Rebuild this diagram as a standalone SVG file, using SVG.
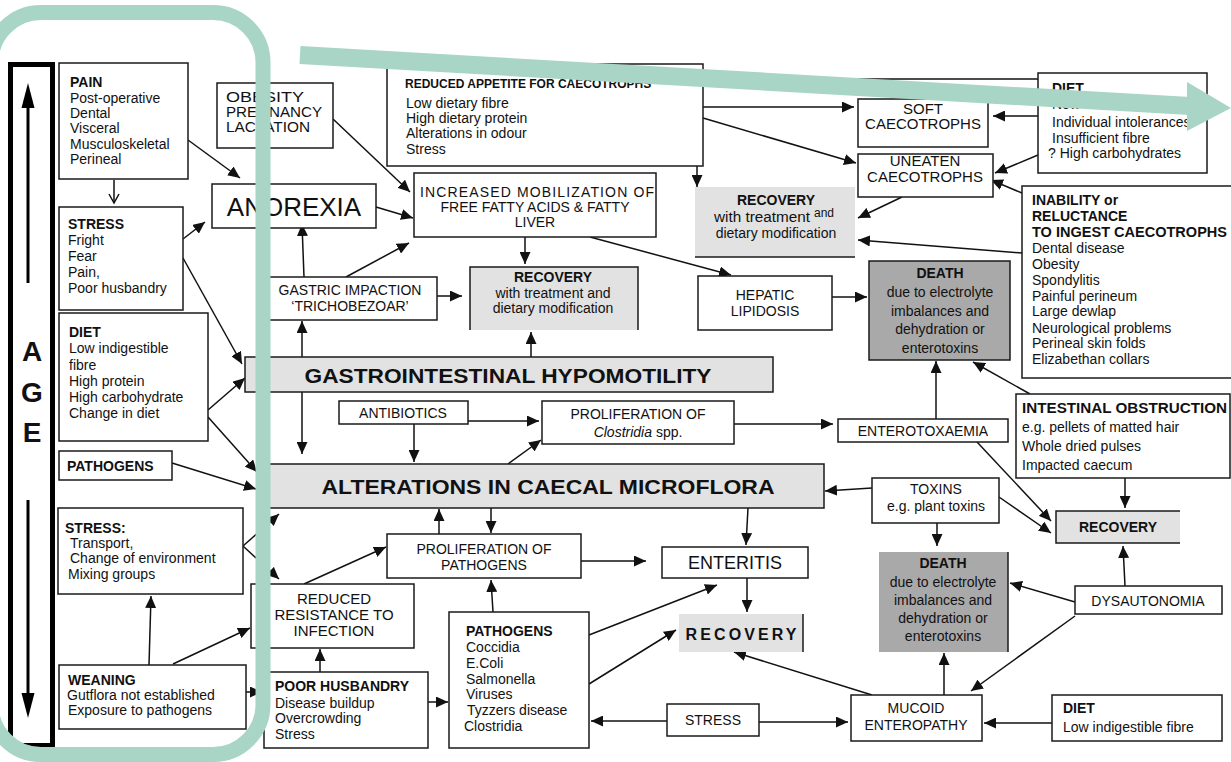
<svg xmlns="http://www.w3.org/2000/svg" width="1231" height="762" viewBox="0 0 1231 762">
<defs>
<marker id="ah" markerUnits="userSpaceOnUse" markerWidth="13" markerHeight="11" refX="12" refY="5.5" orient="auto">
<path d="M0,0 L12,5.5 L0,11 z" fill="#111"/>
</marker>
<marker id="oh" markerUnits="userSpaceOnUse" markerWidth="12" markerHeight="12" refX="10" refY="6" orient="auto">
<path d="M1,1 L10,6 L1,11" fill="none" stroke="#111" stroke-width="1.5"/>
</marker>
<style>
.b{fill:#fff;stroke:#1a1a1a;stroke-width:1.5}
.g{fill:#e2e2e2;stroke:none}
.d{fill:#a9a9a9;stroke:none}
.e{fill:none;stroke:#1a1a1a;stroke-width:1.5}
text{font-family:"Liberation Sans",Arial,sans-serif;font-size:14px;fill:#111}
.h{font-weight:bold}
.c{text-anchor:middle}
.cn line,.cn path{stroke:#111;stroke-width:1.5;fill:none;marker-end:url(#ah)}
.cn .p{marker-end:none}
.teal{fill:none;stroke:#a8d5c5}
</style>
</defs>
<rect width="1231" height="762" fill="#fff"/>

<g id="connectors" class="cn">
<line x1="188" y1="140" x2="240" y2="178"/>
<line x1="114" y1="180" x2="114" y2="203" style="marker-end:url(#oh)"/>
<line x1="333" y1="119" x2="410" y2="192"/>
<line x1="376" y1="207" x2="413" y2="218"/>
<line x1="183" y1="239" x2="205" y2="222"/>
<line x1="183" y1="258" x2="242" y2="364"/>
<line x1="208" y1="410" x2="245" y2="378"/>
<line x1="208" y1="417" x2="257" y2="472"/>
<line x1="172" y1="463" x2="256" y2="489"/>
<line x1="243" y1="546" x2="279" y2="514"/>
<line x1="243" y1="546" x2="279" y2="579"/>
<line x1="149" y1="665" x2="151" y2="596"/>
<line x1="173" y1="664" x2="250" y2="628"/>
<line x1="246" y1="692" x2="262" y2="692"/>
<line x1="304" y1="277" x2="302" y2="224"/>
<line x1="346" y1="277" x2="409" y2="243"/>
<line x1="437" y1="296" x2="462" y2="296"/>
<line x1="302" y1="357" x2="302" y2="321"/>
<line x1="302" y1="392" x2="302" y2="454"/>
<line x1="525" y1="237" x2="525" y2="264"/>
<line x1="590" y1="237" x2="731" y2="275"/>
<line x1="697" y1="166" x2="697" y2="187"/>
<line x1="703" y1="107" x2="854" y2="107"/>
<line x1="703" y1="118" x2="856" y2="163"/>
<line class="p" x1="703" y1="79" x2="1038" y2="79"/>
<line x1="1038" y1="116" x2="993" y2="116"/>
<line x1="1038" y1="155" x2="995" y2="173"/>
<line x1="1022" y1="193" x2="991" y2="180"/>
<line x1="902" y1="197" x2="858" y2="218"/>
<line x1="1022" y1="253" x2="858" y2="240"/>
<line x1="832" y1="297" x2="867" y2="297"/>
<line x1="936" y1="419" x2="936" y2="361"/>
<line x1="1030" y1="394" x2="973" y2="362"/>
<line x1="734" y1="424" x2="833" y2="424"/>
<line x1="468" y1="421" x2="539" y2="421"/>
<line x1="414" y1="424" x2="414" y2="462"/>
<line x1="508" y1="464" x2="541" y2="440"/>
<line x1="531" y1="357" x2="531" y2="332"/>
<line x1="977" y1="442" x2="1051" y2="521"/>
<line x1="999" y1="497" x2="1051" y2="533"/>
<line x1="872" y1="488" x2="825" y2="491"/>
<line x1="937" y1="523" x2="937" y2="546"/>
<line x1="1125" y1="478" x2="1125" y2="508"/>
<line x1="1125" y1="586" x2="1123" y2="546"/>
<line x1="1075" y1="602" x2="1010" y2="583"/>
<line x1="1075" y1="616" x2="971" y2="691"/>
<line x1="944" y1="695" x2="944" y2="653"/>
<line x1="1052" y1="723" x2="984" y2="723"/>
<line x1="759" y1="722" x2="848" y2="722"/>
<line x1="667" y1="721" x2="591" y2="721"/>
<line x1="872" y1="695" x2="734" y2="652"/>
<line x1="589" y1="635" x2="717" y2="585"/>
<line x1="589" y1="684" x2="676" y2="630"/>
<line x1="747" y1="578" x2="747" y2="612"/>
<line x1="748" y1="508" x2="746" y2="545"/>
<line x1="581" y1="561" x2="646" y2="561"/>
<line x1="439" y1="534" x2="439" y2="509"/>
<line x1="491" y1="508" x2="491" y2="533"/>
<line x1="493" y1="612" x2="491" y2="580"/>
<line x1="428" y1="702" x2="448" y2="702"/>
<line x1="320" y1="672" x2="320" y2="649"/>
<line x1="304" y1="584" x2="386" y2="547"/>
</g>

<g id="age">
<rect x="10.5" y="64.5" width="42" height="681" fill="none" stroke="#000" stroke-width="5"/>
<line x1="28" y1="105" x2="28" y2="283" stroke="#000" stroke-width="3"/>
<path d="M28,83 L21.5,108 L34.5,108 z" fill="#000"/>
<line x1="28" y1="500" x2="28" y2="697" stroke="#000" stroke-width="3"/>
<path d="M28,718 L21.5,693 L34.5,693 z" fill="#000"/>
<text class="h c" x="32" y="361" style="font-size:28px">A</text>
<text class="h c" x="32" y="402" style="font-size:28px">G</text>
<text class="h c" x="32" y="442" style="font-size:28px">E</text>
</g>

<g id="pain">
<rect class="b" x="59" y="63" width="129" height="116"/>
<text class="h" x="70" y="87">PAIN</text>
<text x="70" y="103">Post-operative</text>
<text x="70" y="118">Dental</text>
<text x="70" y="133">Visceral</text>
<text x="70" y="149">Musculoskeletal</text>
<text x="70" y="164">Perineal</text>
</g>

<g id="stress1">
<rect class="b" x="59" y="207" width="124" height="103"/>
<text class="h" x="68" y="229">STRESS</text>
<text x="68" y="245">Fright</text>
<text x="68" y="261">Fear</text>
<text x="68" y="277">Pain,</text>
<text x="68" y="293">Poor husbandry</text>
</g>

<g id="diet1">
<rect class="b" x="59" y="313" width="149" height="128"/>
<text class="h" x="69" y="337">DIET</text>
<text x="69" y="353">Low indigestible</text>
<text x="69" y="370">fibre</text>
<text x="69" y="386">High protein</text>
<text x="69" y="402">High carbohydrate</text>
<text x="69" y="418">Change in diet</text>
</g>

<g id="pathogens1">
<rect class="b" x="59" y="451" width="113" height="29"/>
<text class="h" x="67" y="471">PATHOGENS</text>
</g>

<g id="stress2">
<rect class="b" x="58" y="508" width="185" height="86"/>
<text class="h" x="65" y="533">STRESS:</text>
<text x="70" y="548">Transport,</text>
<text x="70" y="563">Change of environment</text>
<text x="68" y="579">Mixing groups</text>
</g>

<g id="weaning">
<rect class="b" x="59" y="665" width="187" height="64"/>
<text class="h" x="68" y="685">WEANING</text>
<text x="67" y="700">Gutflora not established</text>
<text x="68" y="715">Exposure to pathogens</text>
</g>

<g id="obesity">
<rect class="b" x="217" y="83" width="116" height="65"/>
<text x="226" y="102" textLength="78" lengthAdjust="spacingAndGlyphs">OBESITY</text>
<text x="226" y="117" textLength="96" lengthAdjust="spacingAndGlyphs">PREGNANCY</text>
<text x="226" y="132" textLength="84" lengthAdjust="spacingAndGlyphs">LACTATION</text>
</g>

<g id="anorexia">
<rect class="b" x="212" y="184" width="164" height="44"/>
<text class="c" x="294" y="216" style="font-size:26px">ANOREXIA</text>
</g>

<g id="reduced-appetite">
<rect class="b" x="387" y="64" width="316" height="102"/>
<text class="h" x="405" y="88" style="font-size:12px">REDUCED APPETITE FOR CAECOTROPHS</text>
<text x="406" y="108">Low dietary fibre</text>
<text x="406" y="123">High dietary protein</text>
<text x="406" y="138">Alterations in odour</text>
<text x="406" y="154">Stress</text>
</g>

<g id="increased">
<rect class="b" x="414" y="173" width="242" height="64"/>
<text class="c" x="537" y="197" textLength="234" lengthAdjust="spacing">INCREASED MOBILIZATION OF</text>
<text class="c" x="535" y="212">FREE FATTY ACIDS &amp; FATTY</text>
<text class="c" x="535" y="227">LIVER</text>
</g>

<g id="gastric">
<rect class="b" x="262" y="277" width="175" height="43"/>
<text class="c" x="350" y="295">GASTRIC IMPACTION</text>
<text class="c" x="350" y="311">‘TRICHOBEZOAR’</text>
</g>

<g id="recovery1">
<rect class="g" x="470" y="267" width="168" height="63"/>
<path class="e" d="M470,330 V267 H638 V330"/>
<text class="h c" x="553" y="282">RECOVERY</text>
<text class="c" x="553" y="298">with treatment and</text>
<text class="c" x="553" y="313">dietary modification</text>
</g>

<g id="hepatic">
<rect class="b" x="698" y="276" width="134" height="54"/>
<text class="c" x="765" y="300">HEPATIC</text>
<text class="c" x="765" y="316">LIPIDOSIS</text>
</g>

<g id="hypomotility">
<rect x="245" y="357" width="528" height="35" fill="#e2e2e2" stroke="#1a1a1a" stroke-width="1.5"/>
<text class="h c" x="508" y="383" style="font-size:20px" textLength="407" lengthAdjust="spacingAndGlyphs">GASTROINTESTINAL HYPOMOTILITY</text>
</g>

<g id="antibiotics">
<rect class="b" x="339" y="401" width="129" height="23"/>
<text class="c" x="403" y="418">ANTIBIOTICS</text>
</g>

<g id="clostridia">
<rect class="b" x="542" y="401" width="192" height="43"/>
<text class="c" x="638" y="419">PROLIFERATION OF</text>
<text class="c" x="638" y="437"><tspan font-style="italic">Clostridia</tspan> spp.</text>
</g>

<g id="microflora">
<rect x="262" y="464" width="562" height="44" fill="#e2e2e2" stroke="#1a1a1a" stroke-width="1.5"/>
<text class="h c" x="548" y="494" style="font-size:20px" textLength="453" lengthAdjust="spacingAndGlyphs">ALTERATIONS IN CAECAL MICROFLORA</text>
</g>

<g id="enterotoxaemia">
<rect class="b" x="838" y="419" width="170" height="23"/>
<text class="c" x="923" y="436">ENTEROTOXAEMIA</text>
</g>

<g id="obstruction">
<rect class="b" x="1016" y="394" width="214" height="84"/>
<text class="h" x="1022" y="413" textLength="205" lengthAdjust="spacingAndGlyphs">INTESTINAL OBSTRUCTION</text>
<text x="1022" y="432">e.g. pellets of matted hair</text>
<text x="1022" y="451">Whole dried pulses</text>
<text x="1022" y="470">Impacted caecum</text>
</g>

<g id="toxins">
<rect class="b" x="872" y="478" width="127" height="45"/>
<text class="c" x="936" y="494">TOXINS</text>
<text class="c" x="936" y="511">e.g. plant toxins</text>
</g>

<g id="recovery2">
<rect class="g" x="1056" y="511" width="124" height="32"/>
<path class="e" d="M1180,511 H1056 V543 H1180"/>
<text class="h c" x="1118" y="532">RECOVERY</text>
</g>

<g id="death2">
<rect class="d" x="879" y="552" width="129" height="100"/>
<line x1="1008" y1="552" x2="1008" y2="652" stroke="#1a1a1a" stroke-width="1.5"/>
<text class="h c" x="943" y="568">DEATH</text>
<text class="c" x="943" y="587">due to electrolyte</text>
<text class="c" x="943" y="605">imbalances and</text>
<text class="c" x="943" y="623">dehydration or</text>
<text class="c" x="943" y="641">enterotoxins</text>
</g>

<g id="death1">
<rect x="869" y="261" width="141" height="99" fill="#a9a9a9" stroke="#1a1a1a" stroke-width="1.5"/>
<text class="h c" x="940" y="278">DEATH</text>
<text class="c" x="940" y="297">due to electrolyte</text>
<text class="c" x="940" y="316">imbalances and</text>
<text class="c" x="940" y="334">dehydration or</text>
<text class="c" x="940" y="353">enterotoxins</text>
</g>

<g id="soft">
<rect class="b" x="858" y="99" width="130" height="48"/>
<text class="c" x="923" y="114" style="font-size:15px">SOFT</text>
<text class="c" x="923" y="129" style="font-size:15px">CAECOTROPHS</text>
</g>

<g id="uneaten">
<rect class="b" x="858" y="154" width="135" height="43"/>
<text class="c" x="925" y="166" style="font-size:15px">UNEATEN</text>
<text class="c" x="925" y="182" style="font-size:15px">CAECOTROPHS</text>
</g>

<g id="diet2">
<rect class="b" x="1038" y="73" width="169" height="100"/>
<text class="h" x="1052" y="93">DIET</text>
<text x="1052" y="109">New food</text>
<text x="1052" y="127">Individual intolerances</text>
<text x="1052" y="143">Insufficient fibre</text>
<text x="1048" y="158">? High carbohydrates</text>
</g>

<g id="inability">
<rect class="b" x="1022" y="186" width="220" height="192"/>
<text class="h" x="1032" y="205">INABILITY  or</text>
<text class="h" x="1032" y="221">RELUCTANCE</text>
<text class="h" x="1032" y="237" textLength="195" lengthAdjust="spacingAndGlyphs">TO INGEST CAECOTROPHS</text>
<text x="1032" y="253">Dental disease</text>
<text x="1032" y="269">Obesity</text>
<text x="1032" y="285">Spondylitis</text>
<text x="1032" y="301">Painful perineum</text>
<text x="1032" y="316">Large dewlap</text>
<text x="1032" y="333">Neurological problems</text>
<text x="1032" y="348">Perineal skin folds</text>
<text x="1032" y="364">Elizabethan collars</text>
</g>

<g id="recovery3">
<rect class="g" x="695" y="187" width="160" height="70"/>
<line x1="695" y1="257" x2="855" y2="257" stroke="#1a1a1a" stroke-width="1.5"/>
<text class="h c" x="776" y="205">RECOVERY</text>
<text x="714" y="222" textLength="96" lengthAdjust="spacingAndGlyphs">with treatment</text>
<text x="814" y="217" style="font-size:12px">and</text>
<text class="c" x="776" y="238">dietary modification</text>
</g>

<g id="enteritis">
<rect class="b" x="662" y="547" width="146" height="31"/>
<text class="c" x="735" y="569" style="font-size:18px">ENTERITIS</text>
</g>

<g id="recovery4">
<rect class="g" x="679" y="614" width="124" height="38"/>
<line x1="803" y1="614" x2="803" y2="652" stroke="#1a1a1a" stroke-width="1.5"/>
<text class="h c" x="741" y="640" style="font-size:16px" textLength="111" lengthAdjust="spacing">RECOVERY</text>
</g>

<g id="prolif-pathogens">
<rect class="b" x="387" y="534" width="194" height="44"/>
<text class="c" x="484" y="554">PROLIFERATION OF</text>
<text class="c" x="484" y="570">PATHOGENS</text>
</g>

<g id="reduced-resistance">
<rect class="b" x="251" y="584" width="163" height="64"/>
<text class="c" x="334" y="604" style="font-size:15px">REDUCED</text>
<text class="c" x="334" y="620" style="font-size:15px">RESISTANCE TO</text>
<text class="c" x="334" y="636" style="font-size:15px">INFECTION</text>
</g>

<g id="husbandry">
<rect class="b" x="264" y="672" width="164" height="76"/>
<text class="h" x="275" y="691">POOR HUSBANDRY</text>
<text x="275" y="708">Disease buildup</text>
<text x="275" y="723">Overcrowding</text>
<text x="275" y="739">Stress</text>
</g>

<g id="pathogens2">
<rect class="b" x="449" y="612" width="140" height="136"/>
<text class="h" x="466" y="636">PATHOGENS</text>
<text x="466" y="652">Coccidia</text>
<text x="466" y="668">E.Coli</text>
<text x="466" y="684">Salmonella</text>
<text x="466" y="699">Viruses</text>
<text x="467" y="715">Tyzzers disease</text>
<text x="464" y="731">Clostridia</text>
</g>

<g id="stress3">
<rect class="b" x="667" y="704" width="92" height="32"/>
<text class="c" x="713" y="725">STRESS</text>
</g>

<g id="mucoid">
<rect class="b" x="851" y="695" width="131" height="46"/>
<text class="c" x="916" y="713">MUCOID</text>
<text class="c" x="916" y="730">ENTEROPATHY</text>
</g>

<g id="diet3">
<rect class="b" x="1052" y="695" width="170" height="46"/>
<text class="h" x="1063" y="713">DIET</text>
<text x="1063" y="732">Low indigestible fibre</text>
</g>

<g id="dysautonomia">
<rect class="b" x="1075" y="586" width="147" height="28"/>
<text class="c" x="1148" y="606">DYSAUTONOMIA</text>
</g>

<g id="overlay">
<rect class="teal" x="-9" y="12.5" width="272" height="742" rx="50" ry="50" stroke-width="15"/>
<line x1="300" y1="55" x2="1190" y2="106" stroke="#a8d5c5" stroke-width="18"/>
<path d="M1187,82 L1231,108 L1187,131 z" fill="#a8d5c5"/>
</g>
</svg>
